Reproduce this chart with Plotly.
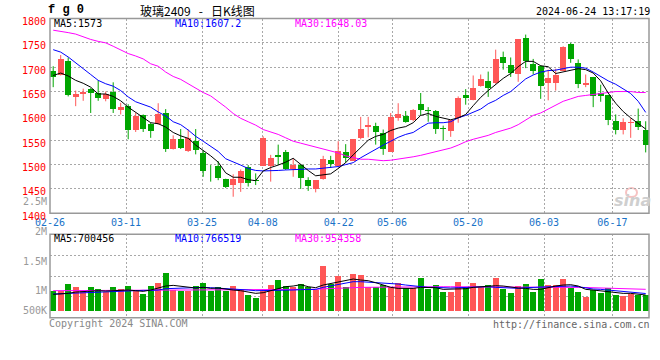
import plotly.graph_objects as go
import pandas as pd

# ---------------- data ----------------
holidays = ['2024-04-04', '2024-04-05', '2024-05-01', '2024-05-02', '2024-05-03', '2024-06-10']
trade_days = [d for d in pd.bdate_range('2024-02-26', '2024-06-24') if d.strftime('%Y-%m-%d') not in holidays]
dates = [d.strftime('%m-%d') for d in trade_days]

opens = [1693, 1685, 1712, 1639, 1644, 1655, 1648, 1635, 1650, 1612,
         1620, 1572, 1601, 1584, 1584, 1605, 1532, 1552, 1528, 1548,
         1524, 1492, 1497, 1470, 1459, 1463, 1495, 1468, 1498, 1498,
         1519, 1526, 1490, 1499, 1468, 1449, 1470, 1509, 1498, 1526,
         1508, 1555, 1578, 1580, 1564, 1526, 1595, 1600, 1591, 1624,
         1613, 1610, 1574, 1569, 1596, 1642, 1633, 1661, 1671, 1667,
         1720, 1705, 1686, 1760, 1706, 1702, 1667, 1667, 1692, 1747,
         1709, 1663, 1679, 1648, 1642, 1590, 1571, 1585, 1589, 1571]
highs = [1702, 1725, 1720, 1652, 1656, 1657, 1673, 1650, 1669, 1627,
         1624, 1606, 1603, 1586, 1626, 1614, 1560, 1573, 1572, 1573,
         1530, 1499, 1507, 1471, 1480, 1490, 1499, 1482, 1558, 1520,
         1541, 1530, 1513, 1501, 1474, 1468, 1518, 1518, 1548, 1542,
         1552, 1598, 1598, 1586, 1572, 1606, 1626, 1610, 1614, 1647,
         1618, 1612, 1580, 1592, 1640, 1655, 1683, 1685, 1691, 1736,
         1732, 1720, 1757, 1767, 1717, 1704, 1695, 1697, 1743, 1750,
         1716, 1685, 1680, 1664, 1643, 1603, 1595, 1595, 1615, 1589]
lows = [1659, 1683, 1640, 1620, 1631, 1606, 1631, 1630, 1606, 1603,
        1552, 1567, 1567, 1555, 1582, 1526, 1531, 1532, 1526, 1521,
        1475, 1465, 1468, 1452, 1434, 1444, 1455, 1458, 1497, 1465,
        1499, 1489, 1475, 1450, 1446, 1443, 1469, 1493, 1496, 1504,
        1508, 1552, 1556, 1541, 1520, 1526, 1590, 1586, 1589, 1601,
        1588, 1563, 1550, 1557, 1586, 1623, 1632, 1660, 1639, 1666,
        1695, 1680, 1670, 1698, 1685, 1635, 1632, 1652, 1692, 1709,
        1657, 1659, 1618, 1629, 1581, 1562, 1562, 1555, 1571, 1525]
closes = [1680, 1717, 1642, 1646, 1650, 1648, 1637, 1644, 1614, 1618,
          1571, 1599, 1573, 1569, 1604, 1532, 1552, 1535, 1554, 1530,
          1487, 1490, 1473, 1453, 1470, 1487, 1463, 1466, 1554, 1513,
          1515, 1491, 1499, 1472, 1457, 1468, 1511, 1501, 1528, 1513,
          1552, 1574, 1581, 1567, 1533, 1597, 1603, 1588, 1612, 1612,
          1611, 1573, 1573, 1591, 1637, 1637, 1657, 1675, 1657, 1716,
          1708, 1688, 1757, 1713, 1693, 1661, 1678, 1683, 1741, 1717,
          1666, 1667, 1641, 1641, 1592, 1571, 1587, 1587, 1577, 1541]

ma5 = [1683, 1688, 1682, 1673, 1667, 1659, 1645, 1645, 1640, 1631,
       1618, 1607, 1597, 1586, 1584, 1577, 1566, 1559, 1554, 1540,
       1529, 1518, 1505, 1483, 1474, 1474, 1469, 1467, 1487, 1494,
       1499, 1505, 1513, 1500, 1488, 1477, 1479, 1481, 1492, 1504,
       1520, 1535, 1550, 1558, 1562, 1570, 1575, 1578, 1586, 1601,
       1605, 1599, 1595, 1592, 1596, 1603, 1621, 1638, 1652, 1665,
       1677, 1687, 1701, 1712, 1712, 1703, 1701, 1687, 1690, 1694,
       1697, 1695, 1688, 1672, 1647, 1626, 1609, 1596, 1584, 1573]
ma10 = [1736, 1731, 1721, 1708, 1697, 1685, 1673, 1666, 1661, 1652,
        1639, 1629, 1623, 1618, 1608, 1600, 1588, 1582, 1571, 1558,
        1548, 1537, 1527, 1512, 1506, 1499, 1492, 1488, 1487, 1487,
        1488, 1489, 1490, 1490, 1491, 1491, 1493, 1494, 1496, 1500,
        1504, 1514, 1523, 1532, 1540, 1548, 1556, 1562, 1566, 1576,
        1585, 1586, 1586, 1588, 1596, 1601, 1607, 1614, 1625, 1632,
        1642, 1650, 1663, 1676, 1684, 1690, 1693, 1694, 1697, 1700,
        1700, 1698, 1690, 1681, 1672, 1665, 1656, 1646, 1630, 1607.2]
ma30 = [1776, 1774, 1771, 1768, 1762, 1757, 1753, 1750, 1743, 1736,
        1728, 1723, 1717, 1707, 1702, 1690, 1681, 1675, 1666, 1656,
        1648, 1641, 1630, 1618, 1605, 1595, 1588, 1581, 1572, 1567,
        1562, 1555, 1548, 1544, 1540, 1536, 1533, 1528, 1524, 1518,
        1514, 1511, 1511, 1510, 1508, 1509, 1511, 1514, 1516, 1519,
        1523, 1526, 1530, 1534, 1540, 1547, 1552, 1556, 1560, 1566,
        1571, 1575, 1582, 1591, 1601, 1606, 1614, 1622, 1630, 1635,
        1640, 1642, 1644, 1646, 1649, 1650, 1650, 1650, 1648, 1648.03]

# volume, thousands of lots
volume_k = [878, 893, 1190, 1057, 893, 1057, 967, 848, 1057, 967,
            1101, 923, 744, 1101, 1235, 1682, 923, 878, 878, 1101,
            1235, 878, 1042, 878, 1101, 923, 699, 580, 878, 1146,
            1369, 1101, 1057, 1190, 1042, 923, 1994, 1190, 1548, 1042,
            1637, 1592, 1071, 1042, 1146, 1042, 1220, 997, 997, 1458,
            967, 1131, 833, 833, 1280, 1027, 1235, 1042, 1131, 1458,
            967, 789, 1086, 1190, 833, 1414, 1146, 1131, 1414, 1027,
            820, 620, 930, 780, 1020, 720, 640, 740, 720, 680]
vma5 = [729, 744, 774, 833, 863, 893, 893, 878, 893, 908,
        923, 893, 863, 923, 997, 1101, 1131, 1101, 1042, 1012,
        1042, 997, 1012, 952, 923, 893, 833, 774, 804, 893,
        1012, 1071, 1101, 1161, 1071, 1027, 1146, 1220, 1295, 1339,
        1414, 1369, 1339, 1250, 1146, 1042, 997, 997, 997, 1042,
        1042, 1027, 952, 952, 982, 982, 1042, 1071, 1101, 1116,
        1101, 1042, 1012, 997, 952, 952, 1042, 1101, 1146, 1161,
        1101, 952, 923, 878, 848, 818, 774, 774, 744, 700.456]
vma10 = [744, 759, 774, 804, 818, 833, 848, 863, 878, 893,
         908, 908, 908, 908, 923, 982, 997, 1012, 1027, 1042,
         1042, 1027, 1012, 982, 952, 938, 923, 893, 893, 893,
         908, 923, 923, 938, 952, 952, 1042, 1101, 1190, 1250,
         1295, 1295, 1280, 1250, 1220, 1220, 1190, 1146, 1101, 1071,
         1042, 1042, 1012, 1012, 1027, 1042, 1057, 1071, 1071, 1042,
         1027, 1012, 997, 1027, 1042, 1042, 1057, 1071, 1101, 1101,
         1071, 1012, 967, 952, 923, 893, 863, 848, 818, 766.519]
vma30 = [893, 894, 895, 896, 898, 899, 900, 902, 903, 905,
         906, 908, 909, 911, 912, 914, 915, 917, 918, 920,
         920, 921, 921, 922, 922, 923, 923, 924, 924, 925,
         930, 935, 940, 945, 950, 955, 975, 995, 1010, 1020,
         1030, 1040, 1045, 1050, 1055, 1060, 1065, 1070, 1070, 1070,
         1070, 1070, 1070, 1070, 1070, 1070, 1070, 1070, 1070, 1070,
         1070, 1070, 1070, 1065, 1062, 1058, 1055, 1051, 1047, 1044,
         1040, 1035, 1028, 1020, 1012, 1004, 997, 980, 965, 954.358]

x_tick_labels = ['02-26', '03-11', '03-25', '04-08', '04-22', '05-06', '05-20', '06-03', '06-17']
price_ticks = [1400, 1450, 1500, 1550, 1600, 1650, 1700, 1750, 1800]
vol_tick_labels = ['2.5M', '2M', '1.5M', '1M', '500K']

title_text = '玻璃2409 - 日K线图'
code_text = 'f g 0'
time_text = '2024-06-24 13:17:19'
ma_price_text = ['MA5:1573', 'MA10:1607.2', 'MA30:1648.03']
ma_vol_text = ['MA5:700456', 'MA10:766519', 'MA30:954358']

# ---------------- style / layout ----------------
W, H = 660, 360
RED, GREEN = '#ff5757', '#00a600'
MONO = 'DejaVu Sans Mono'
GRID = '#a8a8a8'
PL, PR = 50, 649          # plot left/right px
STEP, X0 = 7.5, 53.2      # candle spacing and first candle centre (px)
GSTEP = 7.6               # gridline spacing per trading day (px)

def px(x):
    return x / W

def py(y):
    return 1 - y / H

n = len(dates)
xs = list(range(n))
xrange_ = [(PL - X0) / STEP, (PR - X0) / STEP]
tick_pos = [(PL + GSTEP * dates.index(t) - X0) / STEP for t in x_tick_labels]

up = [c >= o for o, c in zip(opens, closes)]
colors = [RED if u else GREEN for u in up]
body_base = [min(o, c) for o, c in zip(opens, closes)]
body_h = [max(abs(c - o), 1.6) for o, c in zip(opens, closes)]

fig = go.Figure()

# wicks
for flag, col in ((True, RED), (False, GREEN)):
    wx, wy = [], []
    for i in xs:
        if up[i] == flag:
            wx += [i, i, None]
            wy += [lows[i], highs[i], None]
    fig.add_trace(go.Scatter(x=wx, y=wy, mode='lines', line=dict(color=col, width=1),
                             hoverinfo='skip', xaxis='x', yaxis='y'))

# bodies
fig.add_trace(go.Bar(x=xs, y=body_h, base=body_base, width=0.76,
                     marker=dict(color=colors, line=dict(width=0)),
                     xaxis='x', yaxis='y'))

# price MAs
for arr, col in ((ma30, '#ff00ff'), (ma10, '#0000ff'), (ma5, '#000000')):
    fig.add_trace(go.Scatter(x=xs, y=arr, mode='lines', line=dict(color=col, width=1),
                             xaxis='x', yaxis='y'))

# volume
fig.add_trace(go.Bar(x=xs, y=volume_k, width=0.76,
                     marker=dict(color=colors, line=dict(width=0)),
                     xaxis='x2', yaxis='y2'))
for arr, col in ((vma30, '#ff00ff'), (vma10, '#0000ff'), (vma5, '#000000')):
    fig.add_trace(go.Scatter(x=xs, y=arr, mode='lines', line=dict(color=col, width=1),
                             xaxis='x2', yaxis='y2'))

main_dom = [py(213.3), py(18.5)]
vol_dom = [py(317.7), py(234.3)]
vol_range = [-312.5, 3410]
vq = (vol_range[1] - vol_range[0]) / 4
vol_grid = [vol_range[0] + k * vq for k in (1, 2, 3)]

common_x = dict(domain=[px(PL), px(PR)], range=xrange_, tickmode='array', tickvals=tick_pos,
                showgrid=True, gridcolor=GRID, griddash='2px,2px', gridwidth=1,
                zeroline=False, showline=False, ticks='', fixedrange=True, automargin=False)

fig.update_layout(
    width=W, height=H, margin=dict(l=0, r=0, t=0, b=0, autoexpand=False),
    paper_bgcolor='white', plot_bgcolor='white', showlegend=False,
    barmode='overlay', bargap=0,
    xaxis=dict(**common_x, anchor='y', ticktext=x_tick_labels,
               tickfont=dict(family=MONO, size=10, color='#1a73c8'), ticklabelstandoff=2),
    xaxis2=dict(**common_x, anchor='y2', showticklabels=False),
    yaxis=dict(domain=main_dom, range=[1400, 1800], tickmode='array', tickvals=price_ticks,
               showgrid=True, gridcolor=GRID, griddash='2px,2px', zeroline=False, ticks='',
               tickfont=dict(family=MONO, size=10, color='#ff0000'), ticklabelstandoff=3,
               ticklabelshift=3, anchor='x', automargin=False),
    yaxis2=dict(domain=vol_dom, range=vol_range, tickmode='array', tickvals=vol_grid,
                showgrid=True, gridcolor=GRID, griddash='2px,2px', zeroline=False, ticks='',
                showticklabels=False, anchor='x2', automargin=False),
)

# panel borders
for xr, yr in (('x domain', 'y domain'), ('x2 domain', 'y2 domain')):
    fig.add_shape(type='rect', xref=xr, yref=yr, x0=0, x1=1, y0=0, y1=1,
                  line=dict(color='#999999', width=1.5), layer='above')

def txt(x, y, s, color='#000', size=10, anchor='left', family=MONO, bold=False, italic=False):
    if bold:
        s = '<b>' + s + '</b>'
    if italic:
        s = '<i>' + s + '</i>'
    fig.add_annotation(x=px(x), y=py(y), xref='paper', yref='paper', text=s, showarrow=False,
                       xanchor=anchor, yanchor='middle', borderpad=0,
                       font=dict(family=family, size=size, color=color))

# header
txt(47, 10, code_text, size=12, bold=True, family='Liberation Mono')
txt(139, 10, title_text.replace(' ', '\u00a0\u00a0\u00a0'), size=12, family='Noto Sans CJK SC')
txt(651, 12, time_text, anchor='right')
for s, x0, col in zip(ma_price_text, (53, 174, 294), ('#000000', '#0000ff', '#ff00ff')):
    txt(x0, 24, s, color=col)
for s, x0, col in zip(ma_vol_text, (53, 174, 294), ('#000000', '#0000ff', '#ff00ff')):
    txt(x0, 238.5, s, color=col)

# volume scale labels (as drawn by the source)
for s, y in zip(vol_tick_labels, (201, 231, 261, 290.7, 310.7)):
    txt(47.5, y, s, color='#999999', anchor='right')

# footer
txt(48, 323.5, 'Copyright 2024 SINA.COM', color='#888888')
txt(651, 324, 'http://finance.sina.com.cn', color='#666666', anchor='right')

# watermark
fig.add_shape(type='circle', xref='paper', yref='paper',
              x0=px(626), x1=px(637), y0=py(197), y1=py(188),
              line=dict(color='rgba(235,120,120,0.45)', width=2), layer='below')
txt(652, 200, 'sina', color='#cfcfcf', size=16, anchor='right',
    family='DejaVu Sans', bold=True, italic=True)

fig.write_html('out.html', config={'displayModeBar': False, 'staticPlot': True},
               post_script="document.body.style.margin='0';")
